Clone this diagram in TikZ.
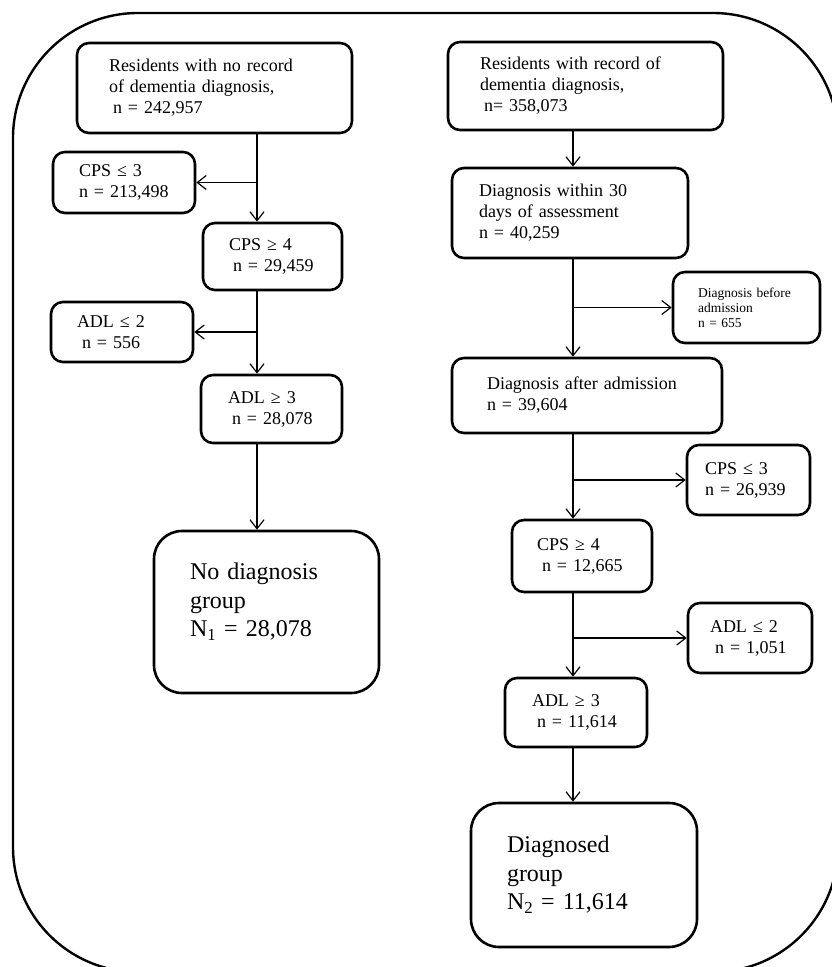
\documentclass[tikz,border=0pt]{standalone}
\usepackage{fontspec}
\setmainfont{Liberation Serif}
\usetikzlibrary{arrows.meta}

\begin{document}
\begin{tikzpicture}[x=1pt, y=-1pt,
        box/.style={draw, line width=2.6pt, rounded corners=12pt, inner sep=0pt, align=left, font=\fontsize{18}{21}\selectfont},
        smallbox/.style={box, font=\fontsize{13.5}{15}\selectfont},
        groupbox/.style={box, rounded corners=28pt, font=\fontsize{24}{28.5}\selectfont},
        arr/.style={-{Straight Barb[length=9pt,width=14pt]}, line width=1.2pt}]
    \useasboundingbox (0,0) rectangle (831,967);
    \draw [line width=2.4pt, rounded corners=125pt] (13,13) rectangle (838,972);

    % left column: no record of dementia
    \coordinate (lt) at (257,0);
    \node [box, minimum width=275pt, minimum height=90pt, text width=211pt] (nrec) at (214.5,88) {Residents with no record\\of dementia diagnosis,\\\hspace*{4pt}n = 242,957};
    \node [box, minimum width=142pt, minimum height=61pt, text width=90pt] (cpslo) at (124,182.5) {CPS ≤ 3\\n = 213,498};
    \node [box, minimum width=139pt, minimum height=67pt, text width=87pt] (cpshi) at (272.5,256.5) {CPS ≥ 4\\\hspace*{4pt}n = 29,459};
    \node [box, minimum width=142pt, minimum height=60pt, text width=90pt] (adllo) at (122,332) {ADL ≤ 2\\\hspace*{5pt}n = 556};
    \node [box, minimum width=141pt, minimum height=68pt, text width=87pt] (adlhi) at (271.5,409) {ADL ≥ 3\\\hspace*{4pt}n = 28,078};
    \node [groupbox, minimum width=225pt, minimum height=162pt, text width=153pt] (nodiag) at (266.5,612) {No diagnosis\\group\\N\textsubscript{1} = 28,078\\[-4.5pt]\mbox{}};

    \draw [arr] (nrec.south -| lt) -- (cpshi.north -| lt);
    \draw [arr] (cpslo.east -| lt) -- (cpslo.east);
    \draw [arr] (cpshi.south -| lt) -- (adlhi.north -| lt);
    \draw [arr] (adllo.east -| lt) -- (adllo.east);
    \draw [arr] (adlhi.south -| lt) -- (nodiag.north -| lt);

    % right column: record of dementia
    \coordinate (rt) at (573,0);
    \node [box, minimum width=275pt, minimum height=88pt, text width=211pt] (rec) at (585.5,86) {Residents with record of\\dementia diagnosis,\\\hspace*{4pt}n= 358,073};
    \node [box, minimum width=236pt, minimum height=90pt, text width=182pt] (within) at (570,213) {Diagnosis within 30\\days of assessment\\n = 40,259};
    \node [smallbox, minimum width=147pt, minimum height=71pt, text width=97pt] (before) at (746.5,307.5) {Diagnosis before\\admission\\n = 655};
    \node [box, minimum width=270pt, minimum height=75pt, text width=200pt] (after) at (587,395.5) {Diagnosis after admission\\n = 39,604};
    \node [box, minimum width=123pt, minimum height=70pt, text width=87pt] (cpslo2) at (748.5,480) {CPS ≤ 3\\n = 26,939};
    \node [box, minimum width=140pt, minimum height=72pt, text width=90pt] (cpshi2) at (582,556) {CPS ≥ 4\\\hspace*{5pt}n = 12,665};
    \node [box, minimum width=124pt, minimum height=70pt, text width=80pt] (adllo2) at (750,638) {ADL ≤ 2\\\hspace*{5pt}n = 1,051};
    \node [box, minimum width=142pt, minimum height=69pt, text width=88pt] (adlhi2) at (576,712.5) {ADL ≥ 3\\\hspace*{5pt}n = 11,614};
    \node [groupbox, minimum width=226pt, minimum height=144pt, text width=154pt] (diag) at (584,875) {Diagnosed\\group\\N\textsubscript{2} = 11,614};

    \draw [arr] (rec.south -| rt) -- (within.north -| rt);
    \draw [arr] (within.south -| rt) -- (after.north -| rt);
    \draw [arr] (before.west -| rt) -- (before.west);
    \draw [arr] (after.south -| rt) -- (cpshi2.north -| rt);
    \draw [arr] (cpslo2.west -| rt) -- (cpslo2.west);
    \draw [arr] (cpshi2.south -| rt) -- (adlhi2.north -| rt);
    \draw [arr] (adllo2.west -| rt) -- (adllo2.west);
    \draw [arr] (adlhi2.south -| rt) -- (diag.north -| rt);
\end{tikzpicture}
\end{document}
